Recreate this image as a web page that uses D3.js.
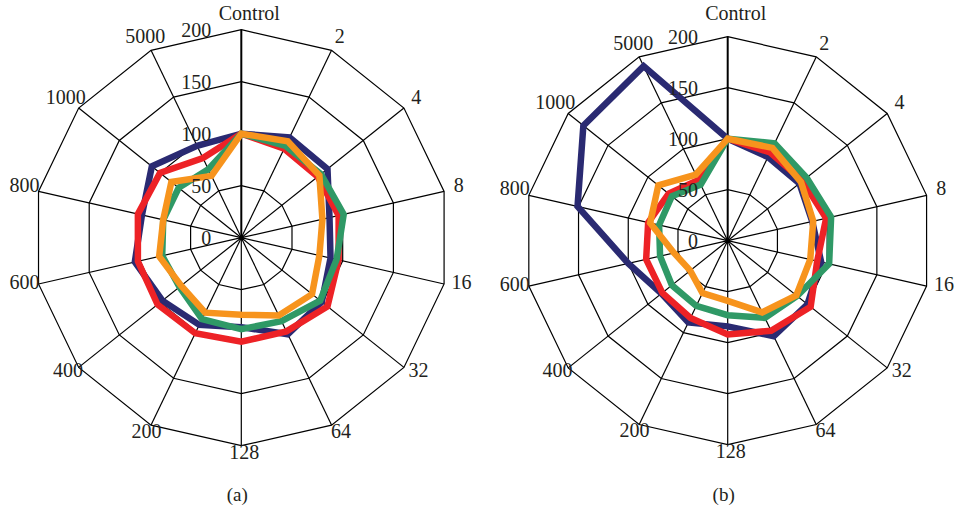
<!DOCTYPE html>
<html>
<head>
<meta charset="utf-8">
<script src="https://cdn.jsdelivr.net/npm/d3@7"></script>
<style>
  body { margin: 0; background: #fff; }
  svg text { font-family: "Liberation Serif", "DejaVu Serif", serif; fill: #231f20; }
</style>
</head>
<body>
<svg id="chart" width="955" height="509"></svg>
<script>
const categories = ["Control", "2", "4", "8", "16", "32", "64", "128", "200", "400", "600", "800", "1000", "5000"];
const ticks = [0, 50, 100, 150, 200];
const colors = ["#2a2a72", "#ed2226", "#2f9966", "#f7941d"];

// panel (a)
const aNavy   = [100, 107, 106, 87, 88, 99, 103, 86, 93, 97, 105, 98, 110, 98];
const aRed    = [100, 95, 94, 96, 96, 106, 100, 100, 102, 103, 102, 102, 100, 85];
const aGreen  = [100, 98, 98, 101, 94, 97, 89, 88, 87, 76, 78, 77, 77, 73];
const aOrange = [100, 103, 96, 80, 77, 87, 83, 74, 80, 74, 81, 77, 86, 66];

// panel (b)
const bNavy   = [100, 91, 90, 85, 94, 100, 104, 84, 89, 83, 100, 151, 181, 190];
const bRed    = [100, 96, 94, 99, 90, 104, 98, 92, 84, 82, 82, 80, 74, 66];
const bGreen  = [100, 106, 99, 104, 102, 87, 84, 73, 71, 70, 68, 69, 70, 61];
const bOrange = [100, 101, 92, 86, 83, 86, 78, 59, 57, 47, 54, 78, 87, 72];

const svg = d3.select("#chart");

function drawRadar(cx, cy, radius, series, label) {
  const g = svg.append("g").attr("transform", `translate(${cx},${cy})`);
  const n = categories.length;

  const angle = d3.scalePoint()
    .domain(categories)
    .range([0, 2 * Math.PI * (n - 1) / n]);

  const r = d3.scaleLinear().domain([0, 200]).range([0, radius]);

  const ring = d3.lineRadial()
    .angle((d) => angle(d))
    .curve(d3.curveLinearClosed);

  // grid polygons
  g.append("g")
    .selectAll("path")
    .data(ticks.filter((t) => t > 0))
    .enter()
    .append("path")
    .attr("d", (t) => ring.radius(r(t))(categories))
    .attr("fill", "none")
    .attr("stroke", "#000")
    .attr("stroke-width", 1.2);

  // spokes
  g.append("g")
    .selectAll("line")
    .data(categories)
    .enter()
    .append("line")
    .attr("x1", 0)
    .attr("y1", 0)
    .attr("x2", (c) => r(200) * Math.sin(angle(c)))
    .attr("y2", (c) => -r(200) * Math.cos(angle(c)))
    .attr("stroke", "#000")
    .attr("stroke-width", (c, i) => (i === 0 ? 2 : 1.2));

  g.append("circle").attr("r", 2.5).attr("fill", "#000");

  // data lines
  const line = d3.lineRadial()
    .angle((d, i) => angle(categories[i]))
    .radius((d) => r(d))
    .curve(d3.curveLinearClosed);

  g.append("g")
    .selectAll("path")
    .data(series)
    .enter()
    .append("path")
    .attr("d", (d) => line(d))
    .attr("fill", "none")
    .attr("stroke", (d, i) => colors[i])
    .attr("stroke-width", 6.5)
    .attr("stroke-linejoin", "miter");

  // value ticks along the Control axis
  g.append("g")
    .selectAll("text")
    .data(ticks)
    .enter()
    .append("text")
    .attr("x", -radius * 0.145)
    .attr("y", (t) => -r(t) + 3)
    .attr("text-anchor", "end")
    .attr("dominant-baseline", "middle")
    .style("font-size", "20px")
    .text((t) => t);

  // category labels
  g.append("g")
    .selectAll("text")
    .data(categories)
    .enter()
    .append("text")
    .attr("text-anchor", "middle")
    .attr("dominant-baseline", "middle")
    .style("font-size", "20px")
    .text((c) => c)
    .each(function (c) {
      const a = angle(c);
      const s = Math.sin(a), co = Math.cos(a);
      const w = this.getComputedTextLength();
      const vx = r(200) * s, vy = -r(200) * co;
      d3.select(this)
        .attr("x", vx + 3 + s * (9 + w / 3.5) + (co > 0.99 ? 5 : 0))
        .attr("y", co > 0.99 ? 15 - cy : vy - co * 11 - 2);
    });

  svg.append("text")
    .attr("x", cx - 4)
    .attr("y", 497)
    .attr("text-anchor", "middle")
    .attr("dominant-baseline", "middle")
    .style("font-size", "19px")
    .text(label);
}

drawRadar(241.3, 237.7, 208, [aNavy, aRed, aGreen, aOrange], "(a)");
drawRadar(727.7, 240.7, 204, [bNavy, bRed, bGreen, bOrange], "(b)");
</script>
</body>
</html>
